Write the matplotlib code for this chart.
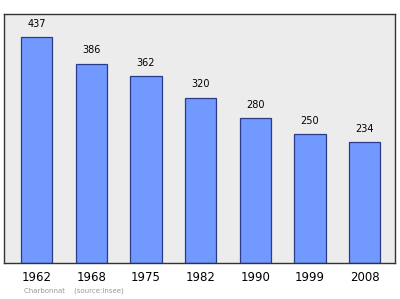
import matplotlib.pyplot as plt

# Population data
years = ['1962', '1968', '1975', '1982', '1990', '1999', '2008']
population = [437, 386, 362, 320, 280, 250, 234]

fig = plt.figure(figsize=(4, 2.99), dpi=100)
ax = fig.add_axes([0.01, 0.12, 0.978, 0.833])
ax.set_facecolor('#ececec')

x = range(len(years))
bars = ax.bar(x, population, width=0.57, color='#7199ff', edgecolor='#2b3b88', linewidth=0.9, zorder=2)
for xi, v in zip(x, population):
    ax.text(xi, v + 16, str(v), ha='center', va='bottom', fontsize=7, color='black')

ax.set_xlim(-0.6, 6.56)
ax.set_ylim(0, 482)
ax.set_yticks([])
ax.set_xticks(list(x))
ax.set_xticklabels(years, fontsize=8.5)
ax.tick_params(axis='x', length=0, pad=6)
for s in ax.spines.values():
    s.set_color('#333333')
    s.set_linewidth(1.0)

fig.text(0.06, 0.022, 'Charbonnat    (source:Insee)', fontsize=5, color='#999999')

fig.savefig('out.png', dpi=100, facecolor='white')
